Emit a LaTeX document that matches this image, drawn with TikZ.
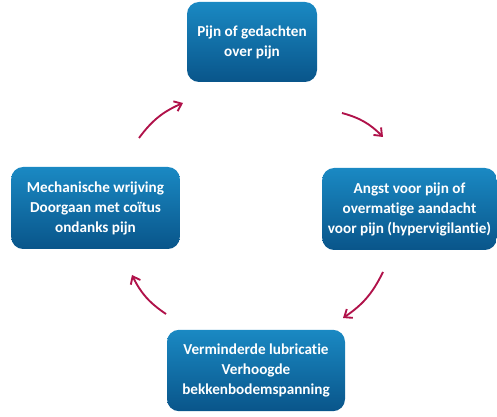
\documentclass[tikz,border=0pt]{standalone}
\usepackage{fontspec}
\setmainfont{Carlito}[Ligatures=NoCommon]
\usetikzlibrary{arrows.meta}

\definecolor{boxtop}{HTML}{1A89C3}
\definecolor{boxbottom}{HTML}{09558A}
\definecolor{cyclered}{HTML}{B0124A}

\tikzset{
  stagebox/.style={rounded corners=9pt, top color=boxtop, bottom color=boxbottom,
    draw=none, text=white, align=center, inner sep=2pt,
    font=\bfseries\fontsize{11.4}{15}\selectfont},
  cyclearrow/.style={draw=cyclered, line width=1.4pt, bend left=15,
    -{Straight Barb[length=5pt,width=8pt]}}
}

\begin{document}
\begin{tikzpicture}[x=0.75pt, y=-0.75pt]
\useasboundingbox (0,0) rectangle (497,417);
% the four stages
\node[stagebox, minimum width=97.5pt, minimum height=60pt] (pain) at (252,42) {Pijn of gedachten\\over pijn};
\node[stagebox, minimum width=131pt, minimum height=61.5pt] (fear) at (409.5,209) {Angst voor pijn of\\overmatige aandacht\\voor pijn (hypervigilantie)};
\node[stagebox, minimum width=133.5pt, minimum height=61pt] (tension) at (256,370.5) {Verminderde lubricatie\\Verhoogde\\bekkenbodemspanning};
\node[stagebox, minimum width=126.5pt, minimum height=61.5pt] (friction) at (95.5,208) {Mechanische wrijving\\Doorgaan met co\"itus\\ondanks pijn};
% arrow ends
\coordinate (a1) at (139,138);
\coordinate (b1) at (183,103);
\coordinate (a2) at (342,113);
\coordinate (b2) at (383,137);
\coordinate (a3) at (383,272);
\coordinate (b3) at (343,318);
\coordinate (a4) at (166,314);
\coordinate (b4) at (132,275);
\draw[cyclearrow] (a1) to (b1);
\draw[cyclearrow] (a2) to (b2);
\draw[cyclearrow] (a3) to (b3);
\draw[cyclearrow] (a4) to (b4);
\end{tikzpicture}
\end{document}
